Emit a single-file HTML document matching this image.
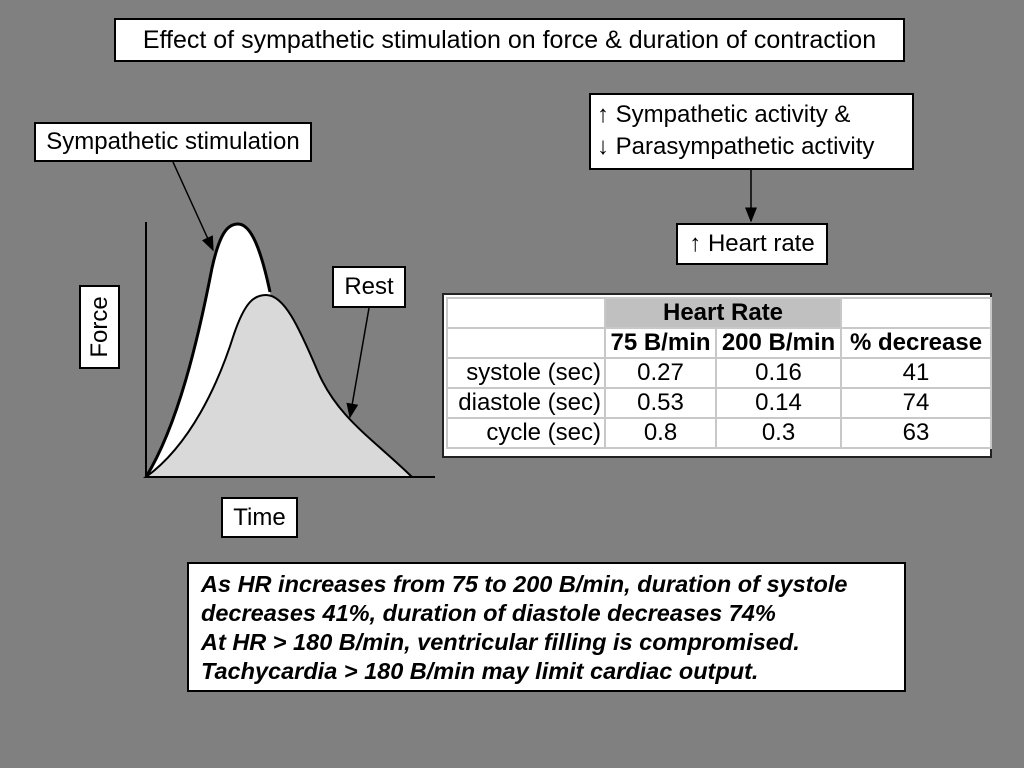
<!DOCTYPE html>
<html><head><meta charset="utf-8"><style>
body{margin:0;width:1024px;height:768px;background:#808080;position:relative;overflow:hidden;font-family:"Liberation Sans",Arial,sans-serif;}
.box{position:absolute;background:#fff;border:2px solid #000;box-sizing:border-box;color:#000;white-space:nowrap;}
table{border-collapse:collapse;table-layout:fixed;}
td{border:2px solid #c8c8c8;font-size:24px;padding:0;height:28px;line-height:28px;overflow:hidden;white-space:nowrap;}
</style></head><body>
<div class="box" style="left:114px;top:18px;width:791px;height:44px;font-size:25px;text-align:center;line-height:40px;">Effect of sympathetic stimulation on force &amp; duration of contraction</div>
<div class="box" style="left:34px;top:122px;width:278px;height:40px;font-size:24px;text-align:center;line-height:36px;">Sympathetic stimulation</div>
<div class="box" style="left:589px;top:93px;width:325px;height:77px;font-size:24px;line-height:32px;padding:4px 0 0 6px;">↑ Sympathetic activity &amp;<br>↓ Parasympathetic activity</div>
<div class="box" style="left:676px;top:223px;width:152px;height:42px;font-size:24px;text-align:center;line-height:38px;">↑ Heart rate</div>
<div class="box" style="left:332px;top:266px;width:74px;height:42px;font-size:24px;text-align:center;line-height:38px;">Rest</div>
<div class="box" style="left:79px;top:285px;width:41px;height:84px;"><div style="position:absolute;left:50%;top:50%;transform:translate(-50%,-50%) rotate(-90deg);font-size:24px;white-space:nowrap;">Force</div></div>
<div class="box" style="left:221px;top:497px;width:77px;height:41px;font-size:24px;text-align:center;line-height:37px;">Time</div>
<svg width="1024" height="768" style="position:absolute;left:0;top:0;">
<defs><marker id="ah" markerWidth="10" markerHeight="10" refX="9" refY="5" orient="auto"><path d="M0,1 L10,5 L0,9 z" fill="#000"/></marker></defs>
<line x1="146" y1="222" x2="146" y2="478" stroke="#000" stroke-width="2"/>
<path d="M146,477 C178,425 198,340 212,268 C220,232 228,224 238,224 C250,224 260,245 270,292 L300,477 Z" fill="#fff" stroke="none"/>
<path d="M146,477 C178,425 198,340 212,268 C220,232 228,224 238,224 C250,224 260,245 270,292" fill="none" stroke="#000" stroke-width="3"/>
<path d="M146,477 C190,445 218,385 234,334 C245,302 254,295 266,295 C284,295 298,325 318,372 C338,418 372,438 412,477 Z" fill="#d9d9d9" stroke="#000" stroke-width="2"/>
<line x1="145" y1="477" x2="435" y2="477" stroke="#000" stroke-width="2"/>
<line x1="173" y1="162" x2="213" y2="250" stroke="#000" stroke-width="1.5" marker-end="url(#ah)"/>
<line x1="369" y1="308" x2="350" y2="417" stroke="#000" stroke-width="1.5" marker-end="url(#ah)"/>
<line x1="751" y1="170" x2="751" y2="221" stroke="#000" stroke-width="1.5" marker-end="url(#ah)"/>
</svg>
<div style="position:absolute;left:442px;top:293px;width:550px;height:165px;background:#fff;border:2px solid #222;box-sizing:border-box;padding:2px;">
<table style="width:544px;">
<colgroup><col style="width:158px"><col style="width:111px"><col style="width:125px"><col style="width:150px"></colgroup>
<tr><td></td><td colspan="2" style="background:#c0c0c0;font-weight:bold;text-align:center;">Heart Rate</td><td></td></tr>
<tr style="text-align:center"><td></td><td style="font-weight:bold">75 B/min</td><td style="font-weight:bold">200 B/min</td><td style="font-weight:bold">% decrease</td></tr>
<tr style="text-align:center"><td style="text-align:right;padding-right:3px">systole (sec)</td><td>0.27</td><td>0.16</td><td>41</td></tr>
<tr style="text-align:center"><td style="text-align:right;padding-right:3px">diastole (sec)</td><td>0.53</td><td>0.14</td><td>74</td></tr>
<tr style="text-align:center"><td style="text-align:right;padding-right:3px">cycle (sec)</td><td>0.8</td><td>0.3</td><td>63</td></tr>
</table></div>
<div class="box" style="left:187px;top:562px;width:719px;height:130px;font-size:23.5px;font-weight:bold;font-style:italic;line-height:29px;padding:6px 0 0 12px;">As HR increases from 75 to 200 B/min, duration of systole<br>decreases 41%, duration of diastole decreases 74%<br>At HR &gt; 180 B/min, ventricular filling is compromised.<br>Tachycardia &gt; 180 B/min may limit cardiac output.</div>
</body></html>
